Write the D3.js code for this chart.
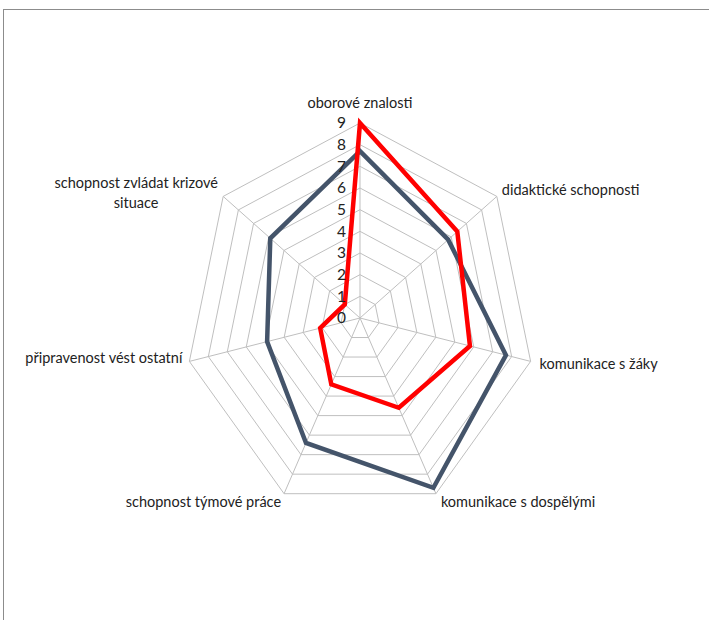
<!DOCTYPE html>
<html>
<head>
<meta charset="utf-8">
<script src="https://cdn.jsdelivr.net/npm/d3@7"></script>
<style>
html,body{margin:0;padding:0;background:#fff;}
svg{display:block;}
text{font-family:Lato,"Open Sans",sans-serif;}
</style>
</head>
<body>
<svg id="chart" width="709" height="620"></svg>
<script>
const categories = ["oborové znalosti","didaktické schopnosti","komunikace s žáky","komunikace s dospělými","schopnost týmové práce","připravenost vést ostatní","schopnost zvládat krizové situace"];
const seriesGrey = [7.7, 5.8, 7.7, 8.7, 6.4, 4.9, 5.9];
const seriesRed = [9, 6.4, 5.8, 4.6, 3.4, 2.1, 1.0];
const tickLabels = [0,1,2,3,4,5,6,7,8,9];

const svg = d3.select("#chart");
const cx = 360, cy = 318;
const rx = d3.scaleLinear().domain([0, 9]).range([0, 175]);
const ry = d3.scaleLinear().domain([0, 9]).range([0, 195]);
const n = categories.length;
const angle = d3.scaleLinear().domain([0, n]).range([0, 2 * Math.PI]);
const pt = (i, v) => [cx + rx(v) * Math.sin(angle(i)), cy - ry(v) * Math.cos(angle(i))];

// border
svg.append("line").attr("x1",3).attr("y1",9.5).attr("x2",709).attr("y2",9.5).attr("stroke","#8c8c8c").attr("stroke-width",1);
svg.append("line").attr("x1",3.5).attr("y1",9).attr("x2",3.5).attr("y2",620).attr("stroke","#8c8c8c").attr("stroke-width",1);

const g = svg.append("g");
const line = d3.line();
// rings
tickLabels.slice(1).forEach(t => {
  const pts = d3.range(n).map(i => pt(i, t));
  g.append("path").attr("d", line(pts) + "Z").attr("fill","none").attr("stroke","#bfbfbf").attr("stroke-width",1);
});
// spokes
d3.range(n).forEach(i => {
  const [x, y] = pt(i, 9);
  g.append("line").attr("x1",cx).attr("y1",cy).attr("x2",x).attr("y2",y).attr("stroke","#bfbfbf").attr("stroke-width",1);
});

// series
[[seriesGrey,"#44546a"],[seriesRed,"#ff0000"]].forEach(([vals,col]) => {
  const pts = vals.map((v,i) => pt(i, v));
  g.append("path").attr("d", line(pts) + "Z").attr("fill","none").attr("stroke",col).attr("stroke-width",4.5).attr("stroke-linejoin","miter");
});

// tick labels
tickLabels.forEach(t => {
  g.append("text").attr("x", cx - 14).attr("y", cy - ry(t)).attr("dy","0.35em")
    .attr("text-anchor","end").attr("font-size",15.5).attr("fill","#222").text(t);
});

// category labels
const labelPos = [
  {dx:0, dy:-20, anchor:"middle"},
  {dx:5, dy:-6, anchor:"start"},
  {dx:9, dy:3, anchor:"start"},
  {dx:5, dy:8, anchor:"start"},
  {dx:-3, dy:8, anchor:"end"},
  {dx:-7, dy:-3, anchor:"end"},
  {dx:-87, dy:-13, anchor:"middle", lines:["schopnost zvládat krizové","situace"]}
];
categories.forEach((c, i) => {
  const [x, y] = pt(i, 9);
  const lp = labelPos[i];
  const lines = lp.lines || [c];
  const t = g.append("text").attr("text-anchor", lp.anchor).attr("font-size",14.5).attr("fill","#222");
  lines.forEach((s, k) => {
    t.append("tspan").attr("x", x + lp.dx).attr("y", y + lp.dy + k * 20).attr("dy","0.35em").text(s);
  });
});
</script>
</body>
</html>
